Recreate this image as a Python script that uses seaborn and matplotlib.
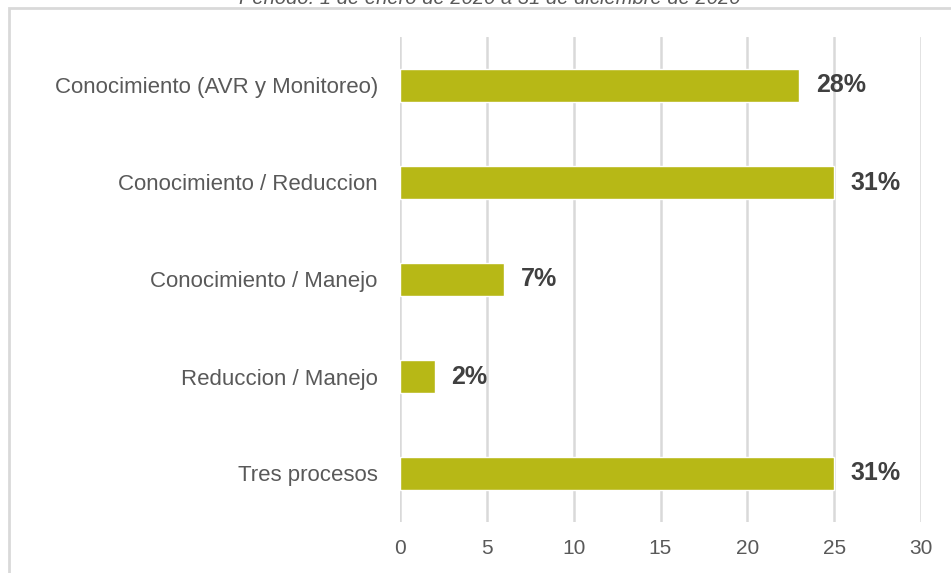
import matplotlib
matplotlib.use("Agg")
import matplotlib.pyplot as plt
import matplotlib.patches as patches
import seaborn as sns
import pandas as pd

# ==================================================
# Data
# ==================================================

categorias = [
    "Conocimiento (AVR y Monitoreo)",
    "Conocimiento / Reduccion",
    "Conocimiento / Manejo",
    "Reduccion / Manejo",
    "Tres procesos",
]
valores = [23, 25, 6, 2, 25]
etiquetas = ["28%", "31%", "7%", "2%", "31%"]
ticks_x = [0, 5, 10, 15, 20, 25, 30]

titulo = "Periodo: 1 de enero de 2020 a 31 de diciembre de 2020"

df = pd.DataFrame({"Categoria": categorias, "Valor": valores})

# ==================================================
# Plot
# ==================================================

sns.set_style("white")
plt.rcParams["font.family"] = ["Liberation Sans", "DejaVu Sans"]

fig = plt.figure(figsize=(9.51, 5.73), dpi=100)
ax = fig.add_axes([400 / 951, 1 - 522 / 573, 521 / 951, 485 / 573])

sns.barplot(
    data=df,
    x="Valor",
    y="Categoria",
    orient="h",
    color="#B7B816",
    width=0.35,
    saturation=1,
    ax=ax,
    zorder=3,
)

ax.set_xlim(0, 30)
ax.set_xticks(ticks_x)
ax.grid(axis="x", color="#D9D9D9", linewidth=1.8, zorder=0)
ax.set_axisbelow(True)
for s in ax.spines.values():
    s.set_visible(False)
ax.tick_params(axis="both", length=0, labelcolor="#595959")
ax.tick_params(axis="x", pad=12, labelsize=15)
ax.tick_params(axis="y", pad=16, labelsize=16)
ax.set_xlabel("")
ax.set_ylabel("")

ax.bar_label(
    ax.containers[0],
    labels=etiquetas,
    padding=12,
    fontsize=18,
    fontweight="bold",
    color="#404040",
)

# border of the chart area
fig.add_artist(
    patches.Rectangle(
        (9 / 951, -0.1),
        1.2,
        1 - 8 / 573 + 0.1,
        transform=fig.transFigure,
        fill=False,
        edgecolor="#D9D9D9",
        linewidth=2,
    )
)

fig.text(
    490 / 951,
    1 - 4 / 573,
    titulo,
    ha="center",
    va="baseline",
    fontsize=14.5,
    style="italic",
    color="#595959",
)

plt.savefig("out.png", dpi=100)
plt.close()
